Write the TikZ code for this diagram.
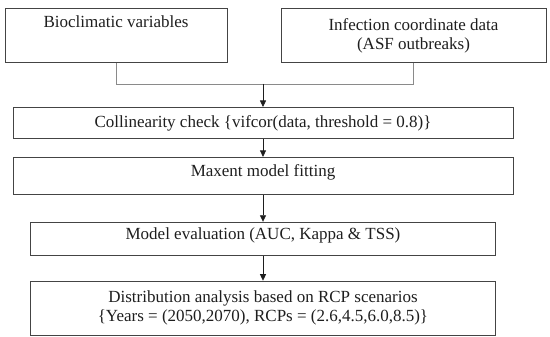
\documentclass[tikz,border=0pt]{standalone}
\usepackage{fontspec}
\setmainfont{Liberation Serif}
\usepackage{tikz}
\usetikzlibrary{arrows.meta,positioning}
\definecolor{boxline}{HTML}{444444}
\definecolor{joinline}{HTML}{8A8A8A}
\definecolor{inktext}{HTML}{1E1E1E}

\begin{document}
\begin{tikzpicture}[
      x=1pt, y=-1pt,
      node distance=18pt,
      every node/.style={font=\fontsize{17}{19}\selectfont, text=inktext},
      box/.style={
        draw=boxline, line width=0.9pt, align=center,
        inner xsep=0pt, inner ysep=0pt
      },
      >={Triangle[length=6.5pt,width=6pt]}
    ]
    \useasboundingbox (0,0) rectangle (550,337);
    % NODES
    \node[box, anchor=north, minimum width=222pt, text height=19pt, text depth=35pt] (bioclim) at (116,8) {Bioclimatic variables};
    \node[box, anchor=north, minimum width=265pt, minimum height=54pt] (infect) at (413.5,8) {Infection coordinate data\\(ASF outbreaks)};

    \node[box, anchor=north, minimum width=500pt, text height=20pt, text depth=11pt] (collin) at (263,107) {Collinearity check \{vifcor(data, threshold = 0.8)\}};
    \node[box, below=18pt of collin, minimum width=500pt, text height=19pt, text depth=18pt] (maxent) {Maxent model fitting};
    \node[box, below=27pt of maxent, minimum width=465pt, text height=17pt, text depth=16pt] (evalm) {Model evaluation (AUC, Kappa \& TSS)};
    \node[box, below=25pt of evalm, minimum width=465pt, minimum height=54pt] (distrib) {Distribution analysis based on RCP scenarios\\\{Years = (2050,2070), RCPs = (2.6,4.5,6.0,8.5)\}};

    \coordinate (merge) at (263,84);

    % CONNECTORS
    \draw[joinline, line width=0.9pt] (bioclim.south) |- (merge);
    \draw[joinline, line width=0.9pt] (infect.south) |- (merge);
    \draw[->, inktext, line width=0.8pt] (merge) -- (collin.north);
    \draw[->, inktext, line width=0.8pt] (collin) -- (maxent);
    \draw[->, inktext, line width=0.8pt] (maxent) -- (evalm);
    \draw[->, inktext, line width=0.8pt] (evalm) -- (distrib);
  \end{tikzpicture}
\end{document}
